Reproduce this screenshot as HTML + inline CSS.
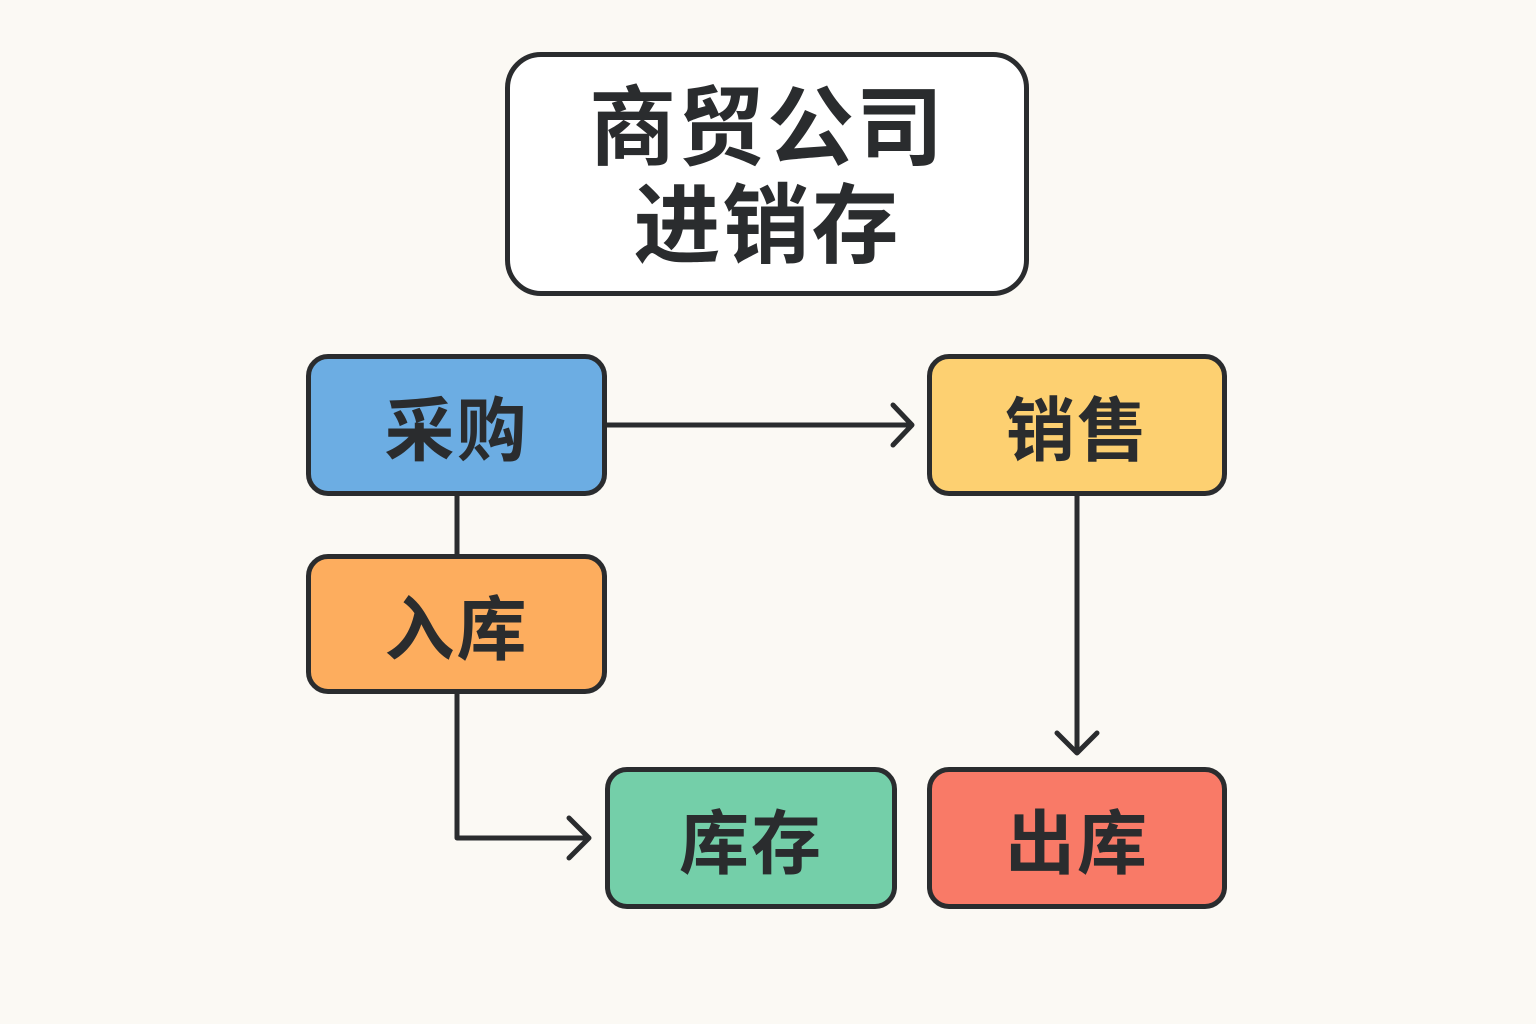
<!DOCTYPE html>
<html><head><meta charset="utf-8"><style>
html,body{margin:0;padding:0;}
body{width:1536px;height:1024px;background:#fbf9f4;position:relative;overflow:hidden;font-family:"Liberation Sans","Noto Sans CJK SC",sans-serif;}
.b{position:absolute;box-sizing:border-box;border:5px solid #2a2c2e;border-radius:22px;display:flex;align-items:center;justify-content:center;font-weight:bold;color:#2a2c2e;font-size:70px;letter-spacing:2px;}
svg{position:absolute;left:0;top:0;}
</style></head><body>
<svg width="1536" height="1024" fill="none" stroke="#2a2c2e" stroke-width="5" stroke-linecap="round" stroke-linejoin="round">
<path d="M606 425 H910"/><path d="M893 405 L912 425 L893 445"/>
<path d="M457 495 V555"/>
<path d="M457 693 V838 H586"/><path d="M569 818 L589 838 L569 858"/>
<path d="M1077 495 V752"/><path d="M1057 733 L1077 753 L1097 733"/>
</svg>
<div class="b" style="left:505px;top:52px;width:524px;height:244px;border-radius:36px;background:#fff;font-size:87px;line-height:98px;text-align:center;letter-spacing:2px;padding-top:8px;">商贸公司<br>进销存</div>
<div class="b" style="left:306px;top:354px;width:301px;height:142px;background:#6cade3;">采购</div>
<div class="b" style="left:927px;top:354px;width:300px;height:142px;background:#fdd071;">销售</div>
<div class="b" style="left:306px;top:554px;width:301px;height:140px;background:#fdad5e;">入库</div>
<div class="b" style="left:605px;top:767px;width:292px;height:142px;background:#74cfa9;">库存</div>
<div class="b" style="left:927px;top:767px;width:300px;height:142px;background:#f97a67;">出库</div>
</body></html>
